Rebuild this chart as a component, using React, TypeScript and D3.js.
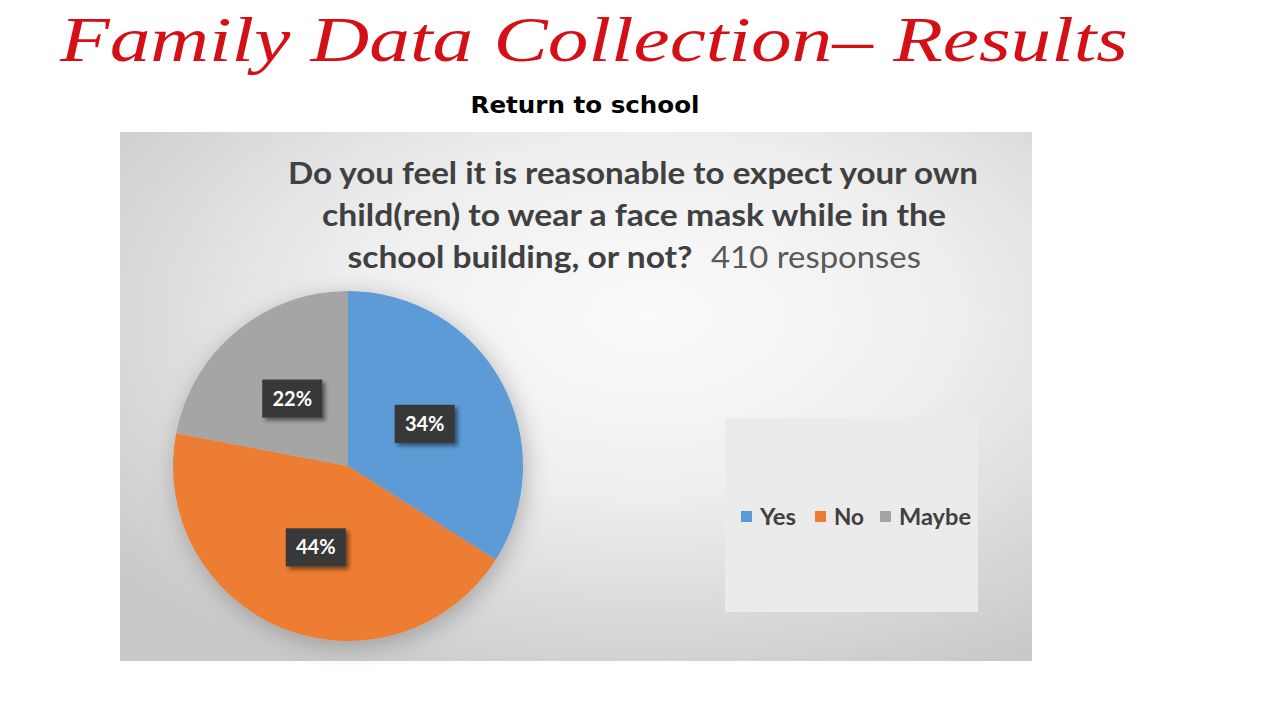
import React from 'react';
import * as d3 from 'd3';

const pageTitle = 'Family Data Collection\u2013 Results';
const subTitle = 'Return to school';
const questionLines = [
  'Do you feel it is reasonable to expect your own',
  'child(ren) to wear a face mask while in the',
];
const questionLast = 'school building, or not?';
const responsesText = '410 responses';
const categories = ['Yes', 'No', 'Maybe'];
const values = [34, 44, 22];
const colors = ['#5b9bd5', '#ed7d31', '#a5a5a5'];

export default function App() {
  const W = 1280, H = 720;
  const cx = 348, cy = 466, r = 175;
  const pie = d3.pie<number>().sort(null).value((d) => d);
  const arcs = pie(values);
  const arc = d3.arc<d3.PieArcDatum<number>>().innerRadius(0).outerRadius(r);
  const color = d3.scaleOrdinal<string, string>().domain(categories).range(colors);
  const legendX = [741, 815, 880];
  const legendW = [36, 30, 72];

  return (
    <svg width={W} height={H} style={{ position: 'absolute', left: 0, top: 0, background: '#fff' }}>
      <defs>
        <radialGradient id="bg" cx="0.58" cy="0.35" r="0.75">
          <stop offset="0" stopColor="#fbfbfb" />
          <stop offset="0.45" stopColor="#eeeeee" />
          <stop offset="1" stopColor="#c9c9c9" />
        </radialGradient>
        <filter id="pieShadow" x="-30%" y="-30%" width="160%" height="160%">
          <feGaussianBlur in="SourceAlpha" stdDeviation="12" />
          <feOffset dx="3" dy="5" result="b" />
          <feComponentTransfer><feFuncA type="linear" slope="0.25" /></feComponentTransfer>
          <feMerge><feMergeNode /><feMergeNode in="SourceGraphic" /></feMerge>
        </filter>
        <filter id="boxShadow" x="-30%" y="-30%" width="160%" height="160%">
          <feGaussianBlur in="SourceAlpha" stdDeviation="2" />
          <feOffset dx="3" dy="3" />
          <feComponentTransfer><feFuncA type="linear" slope="0.5" /></feComponentTransfer>
          <feMerge><feMergeNode /><feMergeNode in="SourceGraphic" /></feMerge>
        </filter>
      </defs>

      <text x={594} y={61} textAnchor="middle" fontFamily="'Liberation Serif', serif" fontStyle="italic"
        fontSize={64} fill="#d40f16" textLength={1068} lengthAdjust="spacingAndGlyphs">{pageTitle}</text>

      <text x={585} y={113} textAnchor="middle" fontFamily="'DejaVu Sans', sans-serif" fontWeight="bold"
        fontSize={23} fill="#000" textLength={229} lengthAdjust="spacingAndGlyphs">{subTitle}</text>

      <rect x={120} y={132} width={912} height={529} fill="url(#bg)" />

      <g fontFamily="Lato, 'Open Sans', sans-serif" fontWeight="bold" fontSize={30} fill="#404040" textAnchor="middle">
        <text x={633} y={184} textLength={690} lengthAdjust="spacingAndGlyphs">{questionLines[0]}</text>
        <text x={634} y={226} textLength={624} lengthAdjust="spacingAndGlyphs">{questionLines[1]}</text>
        <text x={520} y={268} textLength={345} lengthAdjust="spacingAndGlyphs">{questionLast}</text>
        <text x={816} y={268} fontWeight="normal" fill="#595959" textLength={210} lengthAdjust="spacingAndGlyphs">{responsesText}</text>
      </g>

      <g transform={`translate(${cx},${cy})`}>
        <g filter="url(#pieShadow)">
          {arcs.map((a, i) => (
            <path key={categories[i]} d={arc(a) || ''} fill={color(categories[i])} />
          ))}
        </g>
        {arcs.map((a, i) => {
          const [lx, ly] = arc.centroid(a);
          return (
            <g key={'l' + i} transform={`translate(${lx},${ly})`}>
              <rect x={-30} y={-19} width={60} height={38} fill="#383838" filter="url(#boxShadow)" />
              <text x={0} y={7} textAnchor="middle" fontFamily="Lato, 'Open Sans', sans-serif" fontWeight="bold"
                fontSize={20} fill="#ffffff">{`${values[i]}%`}</text>
            </g>
          );
        })}
      </g>

      <rect x={725} y={418} width={253} height={194} fill="#ebebeb" />
      <g fontFamily="Lato, 'Open Sans', sans-serif" fontWeight="bold" fontSize={22} fill="#404040">
        {categories.map((c, i) => (
          <g key={c}>
            <rect x={legendX[i]} y={511} width={11} height={11} fill={color(c)} />
            <text x={legendX[i] + 19} y={525} textLength={legendW[i]} lengthAdjust="spacingAndGlyphs">{c}</text>
          </g>
        ))}
      </g>
    </svg>
  );
}
